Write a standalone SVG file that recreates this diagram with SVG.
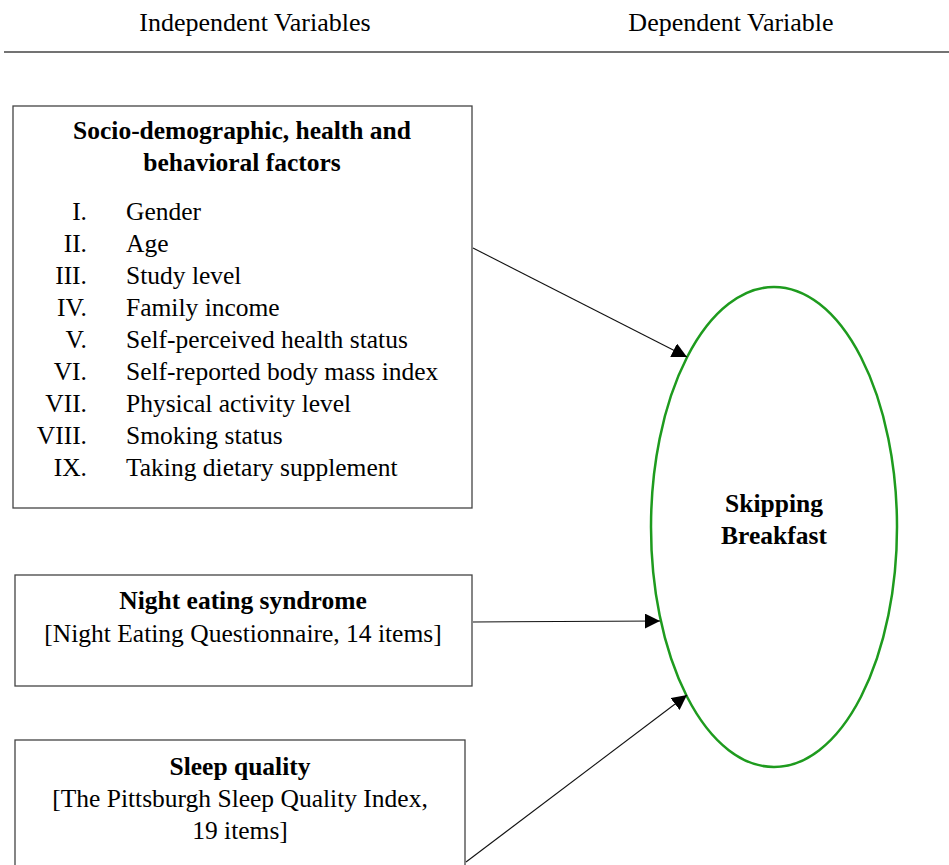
<svg xmlns="http://www.w3.org/2000/svg" width="949" height="865" viewBox="0 0 949 865">
<defs>
<style>
text{font-family:"Liberation Serif","Times New Roman",serif;font-size:25.5px;fill:#000}
.b{font-weight:bold}
.c{text-anchor:middle}
.r{text-anchor:end}
.h{font-size:26px}
.box{fill:#fff;stroke:#444;stroke-width:1.3}
.conn{stroke:#111;stroke-width:1.1;fill:none;marker-end:url(#ah)}
</style>
<marker id="ah" viewBox="0 0 10 10" refX="10" refY="5" markerWidth="15" markerHeight="15" markerUnits="userSpaceOnUse" orient="auto">
<path d="M0,0 L10,5 L0,10 z" fill="#000"/>
</marker>
</defs>
<rect width="949" height="865" fill="#fff"/>
<g id="header">
<text class="c h" x="255" y="31">Independent Variables</text>
<text class="c h" x="731" y="31">Dependent Variable</text>
<line x1="4" y1="52" x2="949" y2="52" stroke="#444" stroke-width="1.3"/>
</g>
<g id="node-socio">
<rect class="box" x="13" y="106" width="459" height="402"/>
<text class="c b" x="242" y="139">Socio-demographic, health and</text>
<text class="c b" x="242" y="171">behavioral factors</text>
<text class="r" x="87" y="220">I.</text><text x="126" y="220">Gender</text>
<text class="r" x="87" y="252">II.</text><text x="126" y="252">Age</text>
<text class="r" x="87" y="284">III.</text><text x="126" y="284">Study level</text>
<text class="r" x="87" y="316">IV.</text><text x="126" y="316">Family income</text>
<text class="r" x="87" y="348">V.</text><text x="126" y="348">Self-perceived health status</text>
<text class="r" x="87" y="380">VI.</text><text x="126" y="380">Self-reported body mass index</text>
<text class="r" x="87" y="412">VII.</text><text x="126" y="412">Physical activity level</text>
<text class="r" x="87" y="444">VIII.</text><text x="126" y="444">Smoking status</text>
<text class="r" x="87" y="476">IX.</text><text x="126" y="476">Taking dietary supplement</text>
</g>
<g id="node-night">
<rect class="box" x="15" y="575" width="457" height="111"/>
<text class="c b" x="243" y="609">Night eating syndrome</text>
<text class="c" x="243" y="642">[Night Eating Questionnaire, 14 items]</text>
</g>
<g id="node-sleep">
<rect class="box" x="15" y="740" width="450" height="140"/>
<text class="c b" x="240" y="775">Sleep quality</text>
<text class="c" x="240" y="807">[The Pittsburgh Sleep Quality Index,</text>
<text class="c" x="240" y="839">19 items]</text>
</g>
<g id="node-skip">
<ellipse cx="774" cy="527" rx="123" ry="240" fill="#fff" stroke="#1e9b1e" stroke-width="2.5"/>
<text class="c b" x="774" y="512">Skipping</text>
<text class="c b" x="774" y="544">Breakfast</text>
</g>
<g id="connectors">
<line class="conn" x1="473" y1="248" x2="687" y2="357"/>
<line class="conn" x1="473" y1="622" x2="660" y2="621"/>
<line class="conn" x1="466" y1="862" x2="687" y2="695"/>
</g>
</svg>
